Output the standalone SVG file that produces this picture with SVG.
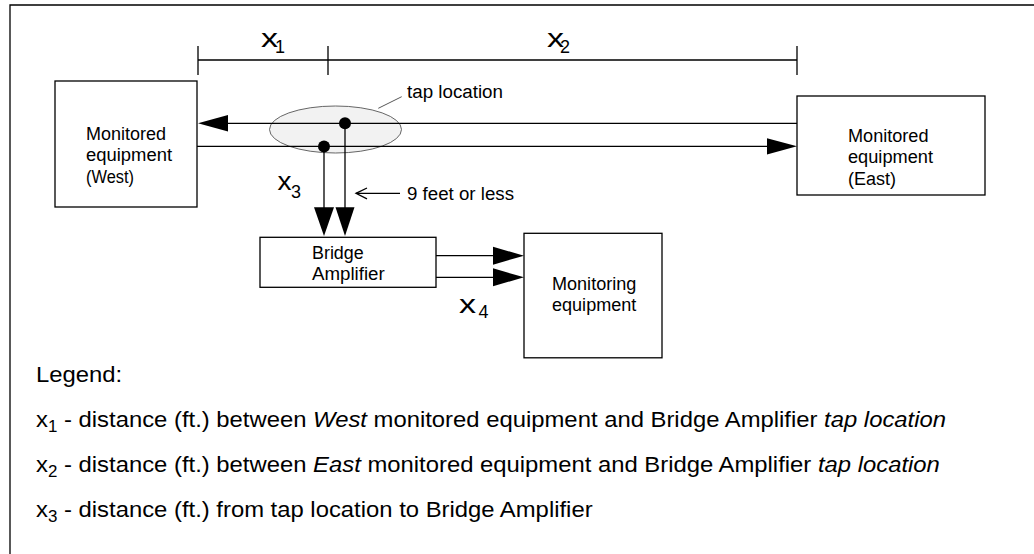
<svg xmlns="http://www.w3.org/2000/svg" width="1034" height="554" viewBox="0 0 1034 554">
<style>
  .box { fill: #ffffff; stroke: #000000; stroke-width: 1.3; }
  .ln { fill: none; stroke: #000000; stroke-width: 1.3; }
  .thin { fill: none; stroke: #444444; stroke-width: 0.9; }
  .head { fill: #000000; stroke: none; }
  .t { font-family: "Liberation Sans", Arial, Helvetica, sans-serif; fill: #000000; }
  .lbl { font-size: 18px; }
  .var { font-size: 25px; }
  .sub { font-size: 18px; }
  .leg { font-size: 22.5px; }
  .legsub { font-size: 16px; }
  .it { font-style: italic; }
</style>
<rect x="0" y="0" width="1034" height="554" fill="#ffffff"/>
<path class="ln" d="M10,554 V5 H1034"/>

<g id="dimensions">
  <path class="ln" d="M198,60 H797 M198,46 V75 M328,46 V75 M797,46 V75"/>
  <text class="t var"><tspan x="261" y="46.7" textLength="17" lengthAdjust="spacingAndGlyphs">x</tspan><tspan class="sub" x="275" y="53.3">1</tspan></text>
  <text class="t var"><tspan x="547" y="46.7" textLength="17" lengthAdjust="spacingAndGlyphs">x</tspan><tspan class="sub" x="560" y="53.3">2</tspan></text>
</g>

<g id="west">
  <rect class="box" x="55" y="81" width="142" height="126"/>
  <text class="t lbl" x="86" y="140" textLength="80" lengthAdjust="spacingAndGlyphs">Monitored</text>
  <text class="t lbl" x="86" y="161" textLength="86" lengthAdjust="spacingAndGlyphs">equipment</text>
  <text class="t lbl" x="86" y="183" textLength="48" lengthAdjust="spacingAndGlyphs">(West)</text>
</g>

<g id="east">
  <rect class="box" x="797" y="96" width="188" height="99"/>
  <text class="t lbl" x="848" y="142" textLength="80.5" lengthAdjust="spacingAndGlyphs">Monitored</text>
  <text class="t lbl" x="848" y="163" textLength="85" lengthAdjust="spacingAndGlyphs">equipment</text>
  <text class="t lbl" x="848" y="185" textLength="48" lengthAdjust="spacingAndGlyphs">(East)</text>
</g>

<g id="tap">
  <ellipse cx="335.5" cy="129.5" rx="66" ry="23.5" fill="#f2f2f2" stroke="#555555" stroke-width="0.9"/>
  <line class="thin" x1="378.3" y1="108.3" x2="401.7" y2="96.7"/>
  <text class="t lbl" x="407" y="98" textLength="96" lengthAdjust="spacingAndGlyphs">tap location</text>
</g>

<g id="bridge">
  <rect class="box" x="260" y="237.3" width="176" height="50"/>
  <text class="t lbl" x="312" y="259" textLength="51.7" lengthAdjust="spacingAndGlyphs">Bridge</text>
  <text class="t lbl" x="312" y="280" textLength="72.7" lengthAdjust="spacingAndGlyphs">Amplifier</text>
</g>

<g id="monitoring">
  <rect class="box" x="524" y="233.3" width="138" height="124.5"/>
  <text class="t lbl" x="552" y="290" textLength="84.3" lengthAdjust="spacingAndGlyphs">Monitoring</text>
  <text class="t lbl" x="552" y="311" textLength="84.3" lengthAdjust="spacingAndGlyphs">equipment</text>
</g>

<g id="connectors">
  <line class="ln" x1="226" y1="123.3" x2="797" y2="123.3"/>
  <polygon class="head" points="198,123.3 228,115 228,131.6"/>
  <line class="ln" x1="197" y1="146.3" x2="769" y2="146.3"/>
  <polygon class="head" points="797,146.3 767,138.3 767,154.5"/>
  <circle class="head" cx="345" cy="123.3" r="6"/>
  <circle class="head" cx="324" cy="146.5" r="6"/>
  <line class="ln" x1="324" y1="146.5" x2="324" y2="209"/>
  <line class="ln" x1="345" y1="123.3" x2="345" y2="209"/>
  <polygon class="head" points="314,207.3 334,207.3 324,236"/>
  <polygon class="head" points="335.5,207.3 354.5,207.3 345,236"/>
  <line class="ln" x1="436" y1="255.7" x2="496" y2="255.7"/>
  <polygon class="head" points="524,255.7 493,246.7 493,264.7"/>
  <line class="ln" x1="436" y1="277.3" x2="496" y2="277.3"/>
  <polygon class="head" points="524,277.3 493,268.3 493,286.3"/>
  <line class="ln" x1="356" y1="193.3" x2="400" y2="193.3"/>
  <polyline class="ln" points="367,188 356,193.3 367,198.8"/>
</g>

<g id="labels">
  <text class="t var"><tspan x="277.5" y="190" textLength="14" lengthAdjust="spacingAndGlyphs">x</tspan><tspan class="sub" x="291" y="198">3</tspan></text>
  <text class="t lbl" x="407" y="200" textLength="107" lengthAdjust="spacingAndGlyphs">9 feet or less</text>
  <text class="t var"><tspan x="459" y="313.3" textLength="17" lengthAdjust="spacingAndGlyphs">x</tspan><tspan class="sub" x="478.5" y="318.3">4</tspan></text>
</g>

<g id="legend">
  <text class="t leg" transform="translate(36,381.7) scale(1.06,1)" x="0" y="0">Legend:</text>
  <text class="t leg" transform="translate(36,426.7) scale(1.06,1)" x="0" y="0">x<tspan class="legsub" dy="5">1</tspan><tspan dy="-5"> - distance (ft.) between </tspan><tspan class="it">West</tspan> monitored equipment and Bridge Amplifier <tspan class="it">tap location</tspan></text>
  <text class="t leg" transform="translate(36,471.7) scale(1.06,1)" x="0" y="0">x<tspan class="legsub" dy="5">2</tspan><tspan dy="-5"> - distance (ft.) between </tspan><tspan class="it">East</tspan> monitored equipment and Bridge Amplifier <tspan class="it">tap location</tspan></text>
  <text class="t leg" transform="translate(36,517.3) scale(1.06,1)" x="0" y="0">x<tspan class="legsub" dy="5">3</tspan><tspan dy="-5"> - distance (ft.) from tap location to Bridge Amplifier</tspan></text>
</g>
</svg>
